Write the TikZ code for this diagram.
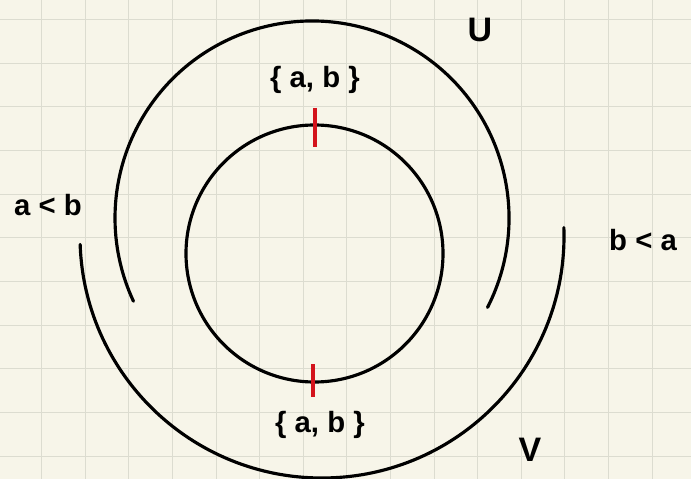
\documentclass[tikz,border=0pt]{standalone}
\usepackage{fontspec}
\setsansfont{Liberation Sans}
\usetikzlibrary{positioning}
\definecolor{paper}{HTML}{F7F5E9}
\definecolor{gridc}{HTML}{DCDCD0}
\definecolor{tickc}{HTML}{D3131C}
\tikzset{
  pen/.style={black,line width=2.7pt,line cap=round},
  redtick/.style={tickc,line width=2.7pt},
  hand/.style={font=\sffamily\bfseries\fontsize{25}{28}\selectfont,inner sep=0pt},
  bighand/.style={hand,font=\sffamily\bfseries\fontsize{29}{32}\selectfont},
}
\newcommand{\gap}{\hspace{0.28em}}

\begin{document}
\begin{tikzpicture}[x=0.03cm,y=0.03cm]
  % paper and grid
  \fill[paper] (0,0) rectangle (691,-479);
  \useasboundingbox (0,0) rectangle (691,-479);
  \foreach \gx in {0,...,15}
    \draw[gridc,line width=0.8pt] ({41.7+43.6*\gx},0) -- ++(0,-479);
  \foreach \gy in {0,...,10}
    \draw[gridc,line width=0.8pt] (0,{-19.3-43.7*\gy}) -- ++(691,0);

  % centres
  \coordinate (ci) at (314.5,-253.5);
  \coordinate (cu) at (312,-218);
  \coordinate (cv) at (322,-236);

  % circle and the two arcs
  \draw[pen] (ci) circle[radius=128.5];
  \draw[pen] (cu) ++(-27:197) arc[start angle=-27,end angle=205,radius=197];
  \draw[pen] (cv) ++(182:242) arc[start angle=182,end angle=362,radius=242];

  % red marks
  \draw[redtick] (315,-108) -- (315,-147);
  \draw[redtick] (313,-364) -- (313,-397);

  % labels
  \node[bighand] (setu) at (480,-30) {U};
  \node[bighand] (setv) at (530,-450) {V};
  \node[hand] (ltab) at (48,-205) {a\gap<\gap b};
  \node[hand,anchor=west] (ltba) at (609,-240) {b\gap<\gap a};
  \node[hand] (topab) at (315,-80) {\{\gap a,\gap b\gap\}};
  \node[hand] (botab) at (320,-425) {\{\gap a,\gap b\gap\}};
\end{tikzpicture}
\end{document}
